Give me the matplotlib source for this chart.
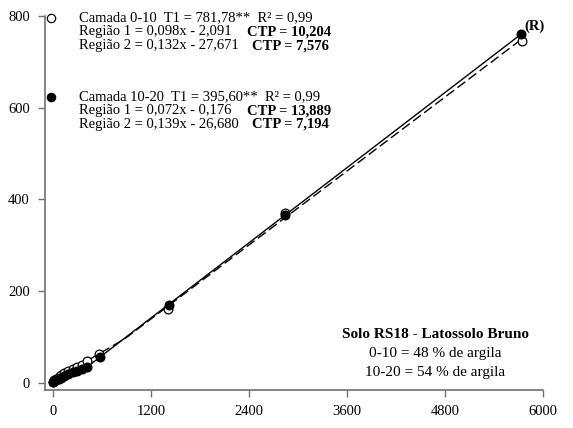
import numpy as np
import matplotlib.pyplot as plt

plt.rcParams['font.family'] = ['Liberation Serif', 'DejaVu Serif']

# Camada 0-10 (círculos abertos)
x_0_10 = [0, 15, 40, 70, 100, 140, 190, 250, 300, 350, 420, 560, 1410, 2840, 5740]
y_0_10 = [2, 5, 8, 12, 16, 20, 25, 30, 35, 38, 47, 63, 160, 370, 746]
# Camada 10-20 (círculos cheios)
x_10_20 = [0, 15, 40, 70, 100, 140, 190, 250, 300, 350, 420, 570, 1425, 2840, 5730]
y_10_20 = [1, 3, 5, 8, 11, 14, 18, 22, 26, 30, 35, 55, 170, 366, 760]

t1_0_10 = 781.78
t1_10_20 = 395.60

x_ticks = [0, 1200, 2400, 3600, 4800, 6000]
y_ticks = [0, 200, 400, 600, 800]


def linha_segmentada(x, y, t1):
    # ajusta uma reta em cada regiao e junta no ponto de cruzamento
    x = np.array(x, float)
    y = np.array(y, float)
    a1, b1 = np.polyfit(x[x <= t1], y[x <= t1], 1)
    a2, b2 = np.polyfit(x[x > t1], y[x > t1], 1)
    xc = (b2 - b1) / (a1 - a2)
    xx = np.linspace(0, x.max(), 500)
    return xx, np.where(xx < xc, a1 * xx + b1, a2 * xx + b2)


fig = plt.figure(figsize=(5.73, 4.28), dpi=100)
ax = fig.add_axes([0.079, 0.089, 0.869, 0.874])

xx, yy = linha_segmentada(x_0_10, y_0_10, t1_0_10)
ax.plot(xx, yy, color='black', lw=1.0, ls=(0, (7, 3)))
xx, yy = linha_segmentada(x_10_20, y_10_20, t1_10_20)
ax.plot(xx, yy, color='black', lw=1.0, ls='-')

ax.plot(x_0_10, y_0_10, 'o', ms=6.3, mfc='white', mec='black', mew=0.9)
ax.plot(x_10_20, y_10_20, 'o', ms=6.3, mfc='black', mec='black', mew=0.9)

ax.set_xlim(-94, 6000)
ax.set_ylim(-16, 800)
ax.set_xticks(x_ticks)
ax.set_yticks(y_ticks)
for s in ['top', 'right']:
    ax.spines[s].set_visible(False)
for s in ['left', 'bottom']:
    ax.spines[s].set_color('#707070')
    ax.spines[s].set_linewidth(1.2)
ax.tick_params(direction='out', length=5, width=1, color='#707070',
               labelsize=10.5, pad=6)

# legenda em texto
fs = 10.5
ax.plot([-25], [795], 'o', ms=6, mfc='white', mec='black', mew=0.9, clip_on=False)
ax.text(320, 795, "Camada 0-10  T1 = 781,78**  R² = 0,99", fontsize=fs, va='center')
ax.text(320, 765, "Região 1 = 0,098x - 2,091", fontsize=fs, va='center')
ax.text(2380, 765, "CTP = 10,204", fontsize=fs, va='center', weight='bold')
ax.text(320, 735, "Região 2 = 0,132x - 27,671", fontsize=fs, va='center')
ax.text(2440, 735, "CTP = 7,576", fontsize=fs, va='center', weight='bold')

ax.plot([-25], [623], 'o', ms=6, mfc='black', mec='black', mew=0.9, clip_on=False)
ax.text(320, 623, "Camada 10-20  T1 = 395,60**  R² = 0,99", fontsize=fs, va='center')
ax.text(320, 593, "Região 1 = 0,072x - 0,176", fontsize=fs, va='center')
ax.text(2370, 593, "CTP = 13,889", fontsize=fs, va='center', weight='bold')
ax.text(320, 563, "Região 2 = 0,139x - 26,680", fontsize=fs, va='center')
ax.text(2440, 563, "CTP = 7,194", fontsize=fs, va='center', weight='bold')

ax.text(5890, 778, "(R)", fontsize=fs, va='center', ha='center', weight='bold')

ax.text(4680, 105, "Solo RS18 - Latossolo Bruno", fontsize=11, ha='center',
        va='center', weight='bold')
ax.text(4680, 63, "0-10 = 48 % de argila", fontsize=11, ha='center', va='center')
ax.text(4680, 21, "10-20 = 54 % de argila", fontsize=11, ha='center', va='center')

fig.savefig('out.png', dpi=100)
